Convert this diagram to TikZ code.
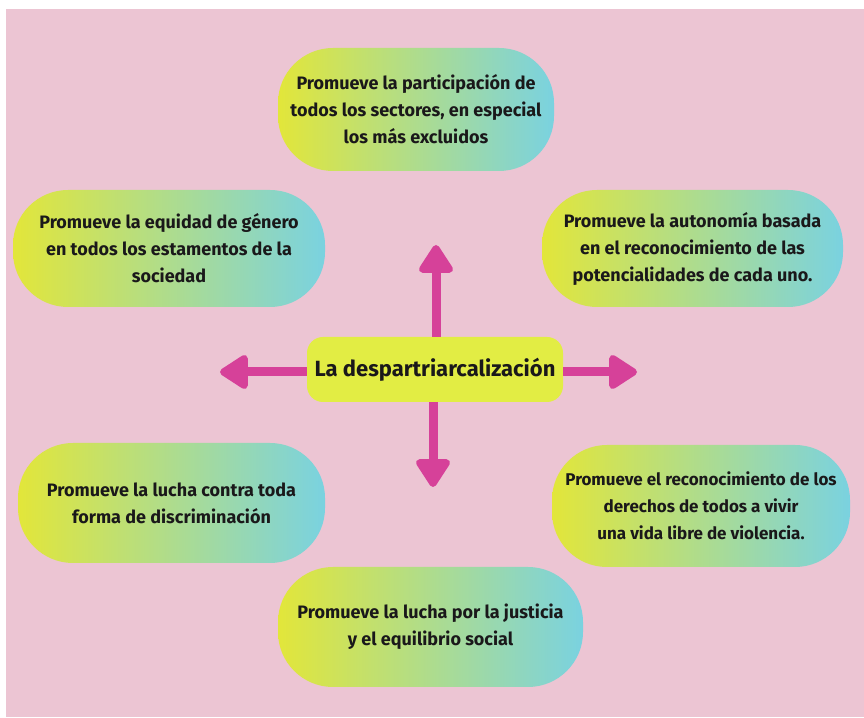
\documentclass[tikz,border=0pt]{standalone}
\usepackage{fontspec}
\setmainfont{Fira Sans}
\usetikzlibrary{arrows.meta, positioning}
\definecolor{pinkBack}{RGB}{236, 197, 211}
\definecolor{spokeMagenta}{RGB}{214, 65, 153}
\definecolor{pillYellow}{RGB}{226, 230, 58}
\definecolor{pillCyan}{RGB}{122, 210, 224}
\definecolor{hubLime}{RGB}{226, 237, 68}
\definecolor{inkBlack}{RGB}{26, 24, 26}
\tikzset{
    pill/.style={rectangle, rounded corners=55pt, left color=pillYellow, right color=pillCyan, draw=none, text=inkBlack, align=center, font=\bfseries\fontsize{18}{27}\selectfont, inner sep=0pt},
    hub/.style={rectangle, rounded corners=16pt, fill=hubLime, text=inkBlack, minimum width=256pt, minimum height=65pt, font=\bfseries\fontsize{22}{26}\selectfont},
    spoke/.style={-{Triangle[length=31pt, width=38pt, round, line width=7pt]}, line width=9pt, draw=spokeMagenta}
}

\begin{document}
\begin{tikzpicture}[x=1pt, y=1pt]

    % Background
    \fill[white] (0,0) rectangle (864,717);
    \fill[pinkBack] (6,0) rectangle (864,708);

    % Center
    \node (hub) [hub] at (435,347.5) {La despartriarcalización};

    % Outer ideas
    \node (partic) [pill, minimum width=276pt, minimum height=123pt] at (416,607.5) {Promueve la participación de\\todos los sectores, en especial\\los más excluidos};
    \node (genero) [pill, minimum width=312pt, minimum height=117pt] at (169,468.5) {Promueve la equidad de género\\en todos los estamentos de la\\sociedad};
    \node (autonom) [pill, minimum width=301pt, minimum height=117pt] at (692.5,468.5) {Promueve la autonomía basada\\en el reconocimiento de las\\potencialidades de cada uno.};
    \node (discrim) [pill, minimum width=307pt, minimum height=120pt] at (171.5,214) {Promueve la lucha contra toda\\forma de discriminación};
    \node (derechos) [pill, minimum width=298pt, minimum height=122pt, font=\bfseries\fontsize{17}{27}\selectfont] at (701,211) {Promueve el reconocimiento de los\\derechos de todos a vivir\\una vida libre de violencia.};
    \node (justicia) [pill, minimum width=305pt, minimum height=120pt] at (430.5,90) {Promueve la lucha por la justicia\\y el equilibrio social};

    % Arrow ends
    \coordinate (upEnd) at (436,472);
    \coordinate (downEnd) at (433,230);
    \coordinate (leftEnd) at (220,345);
    \coordinate (rightEnd) at (637,345);

    \draw [spoke] (hub.north -| upEnd) -- (upEnd);
    \draw [spoke] (hub.south -| downEnd) -- (downEnd);
    \draw [spoke] (hub.west |- leftEnd) -- (leftEnd);
    \draw [spoke] (hub.east |- rightEnd) -- (rightEnd);

\end{tikzpicture}
\end{document}
